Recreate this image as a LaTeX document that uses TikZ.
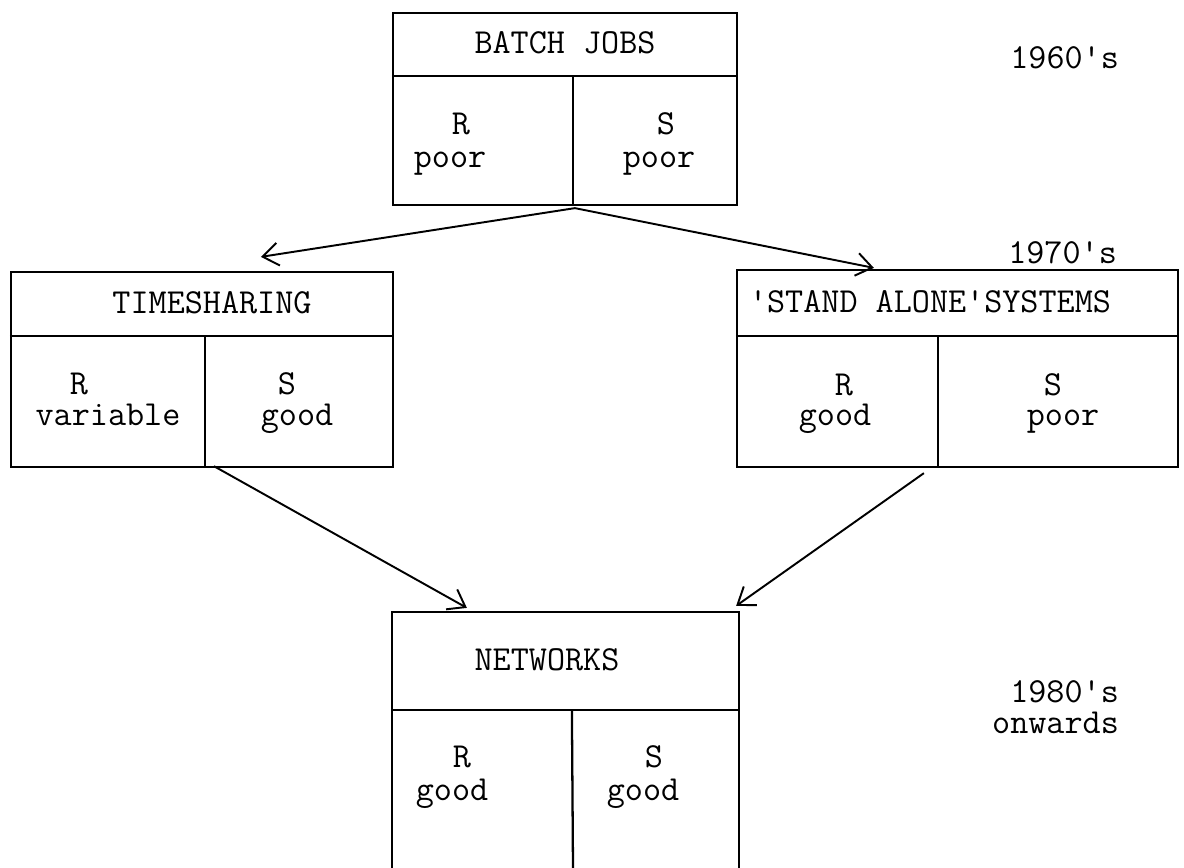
\documentclass[tikz,border=0pt]{standalone}
\usepackage{fontspec}
\usetikzlibrary{arrows.meta,positioning,calc}
\tikzset{
  box/.style={draw, line width=1.3pt, inner sep=0pt},
  txt/.style={font=\ttfamily\fontsize{20}{18}\selectfont, anchor=base, inner sep=0pt},
  era/.style={txt, anchor=base east},
  flow/.style={line width=1.1pt, -{Straight Barb[length=9pt,width=13pt,line width=1.1pt]}},
}
\begin{document}
\begin{tikzpicture}[x=0.02cm, y=-0.02cm, line width=1.3pt]
\useasboundingbox (0,0) rectangle (1184,867);
% the four boxes
\node[box, minimum width=6.88cm, minimum height=3.84cm] (batch) at (565,109) {};
\node[box, minimum width=7.64cm, minimum height=3.9cm] (ts) at (202,369.5) {};
\node[box, minimum width=8.82cm, minimum height=3.94cm] (sa) at (957.5,368.5) {};
\node[inner sep=0pt, minimum width=6.9cm, minimum height=5.08cm] (net) at (565.5,740) {};
\draw (net.south west) |- (net.north east) -- (net.south east);
% dividers
\draw ($(batch.north west)+(0,64)$) -- ($(batch.north east)+(0,64)$);
\draw ($(batch.north west)+(181,64)$) -- ($(batch.south west)+(181,0)$);
\draw ($(ts.north west)+(0,65)$) -- ($(ts.north east)+(0,65)$);
\draw ($(ts.north west)+(195,65)$) -- ($(ts.south west)+(195,0)$);
\draw ($(sa.north west)+(0,67)$) -- ($(sa.north east)+(0,67)$);
\draw ($(sa.north west)+(202,67)$) -- ($(sa.south west)+(202,0)$);
\draw ($(net.north west)+(0,98)$) -- ($(net.north east)+(0,98)$);
\draw ($(net.north west)+(180,98)$) -- (net.south west -| 573,0);
% texts
\node[txt] (bj-title) at (565,53) {BATCH JOBS};
\node[txt] (bj-r) at (461,134) {R};
\node[txt] (bj-rv) at (450,167) {poor};
\node[txt] (bj-s) at (666,134) {S};
\node[txt] (bj-sv) at (659,167) {poor};
\node[txt] (ts-title) at (212,313) {TIMESHARING};
\node[txt] (ts-r) at (79,394) {R};
\node[txt] (ts-rv) at (108,425) {variable};
\node[txt] (ts-s) at (287,394) {S};
\node[txt] (ts-sv) at (297,425) {good};
\node[txt] (sa-title) at (930,312) {'STAND ALONE'SYSTEMS};
\node[txt] (sa-r) at (844,395) {R};
\node[txt] (sa-rv) at (835,425) {good};
\node[txt] (sa-s) at (1053,395) {S};
\node[txt] (sa-sv) at (1063,425) {poor};
\node[txt] (net-title) at (547,670) {NETWORKS};
\node[txt] (net-r) at (462,767) {R};
\node[txt] (net-rv) at (452,800) {good};
\node[txt] (net-s) at (654,767) {S};
\node[txt] (net-sv) at (643,800) {good};
\node[era] (e60) at (1120,68) {1960's};
\node[era] (e70) at (1118,263) {1970's};
\node[era] (e80) at (1120,702) {1980's};
\node[era] (e80b) at (1120,733) {onwards};
% connectors
\coordinate (bj-out) at ($(batch.south west)+(183,2)$);
\coordinate (ts-in) at ($(ts.north west)+(251,-14)$);
\coordinate (sa-in) at ($(sa.north west)+(138,-1)$);
\coordinate (ts-out) at ($(ts.south west)+(204,-2)$);
\coordinate (sa-out) at ($(sa.south west)+(188,5)$);
\coordinate (net-in1) at ($(net.north west)+(75,-4)$);
\coordinate (net-in2) at ($(net.north east)+(-3,-6)$);
\draw[flow] (bj-out) -- (ts-in);
\draw[flow] (bj-out) -- (sa-in);
\draw[flow] (ts-out) -- (net-in1);
\draw[flow] (sa-out) -- (net-in2);
\end{tikzpicture}
\end{document}
